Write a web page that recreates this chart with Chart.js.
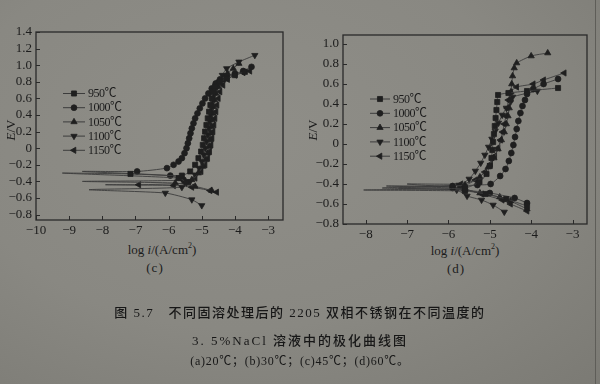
<!DOCTYPE html>
<html><head><meta charset="utf-8">
<script src="https://cdn.jsdelivr.net/npm/chart.js@4.4.0/dist/chart.umd.min.js"></script>
<style>
html,body{margin:0;padding:0;}
body{width:600px;height:384px;position:relative;overflow:hidden;
 background:radial-gradient(ellipse at 40% 35%,#8f8e88 0%,#898882 55%,#7b7a74 100%);
 font-family:"Liberation Serif","Noto Sans CJK SC",serif;color:#1c1c1c;}
canvas{position:absolute;top:0;}
.t{position:absolute;white-space:nowrap;font-size:13px;transform:translate(-50%,-50%);line-height:1;}
.rot{transform:translate(-50%,-50%) rotate(-90deg);}
.cap{position:absolute;left:0;width:600px;text-align:center;white-space:nowrap;line-height:16px;color:#171717;}
.edge{position:absolute;left:595px;top:0;width:1px;height:384px;background:#5e5d58;}
</style></head>
<body>
<canvas id="cc" width="300" height="240" style="left:0"></canvas>
<canvas id="cd" width="300" height="240" style="left:300px"></canvas>
<div class="edge"></div>
<div class="t rot" style="left:10px;top:130px"><i>E</i>/V</div>
<div class="t" style="left:162px;top:249px">log <i>i</i>/(A/cm<sup style="font-size:8px">2</sup>)</div>
<div class="t" style="left:155px;top:267px;letter-spacing:1px">(c)</div>
<div class="t rot" style="left:312px;top:130px"><i>E</i>/V</div>
<div class="t" style="left:465px;top:250px">log <i>i</i>/(A/cm<sup style="font-size:8px">2</sup>)</div>
<div class="t" style="left:456px;top:268px;letter-spacing:1px">(d)</div>
<div class="cap" style="top:305px;font-size:13px;letter-spacing:1.5px;font-weight:500">图 5.7&nbsp;&nbsp;&nbsp;不同固溶处理后的 2205 双相不锈钢在不同温度的</div>
<div class="cap" style="top:333px;font-size:13px;letter-spacing:2px;font-weight:500">3. 5%NaCl 溶液中的极化曲线图</div>
<div class="cap" style="top:353px;font-size:12px;letter-spacing:0.75px">(a)20℃；(b)30℃；(c)45℃；(d)60℃。</div>
<script>
// ---- data ----
const seriesNames = ['950℃','1000℃','1050℃','1100℃','1150℃'];

// chart (c): [log i, E]
const c950 = [[-5.45,-0.41],[-5.7,-0.36],[-9.2,-0.30],[-7.15,-0.31],[-5.6,-0.33],[-5.35,-0.28],[-5.2,-0.2],[-5.1,-0.12],[-5.02,-0.04],[-4.97,0.04],[-4.93,0.12],[-4.9,0.2],[-4.86,0.28],[-4.82,0.36],[-4.78,0.44],[-4.74,0.52],[-4.7,0.6],[-4.66,0.68],[-4.6,0.74],[-4.45,0.8],[-4.25,0.84],[-4.0,0.88],[-3.7,0.92]];
const c1000 = [[-5.55,-0.38],[-5.95,-0.33],[-8.6,-0.28],[-6.95,-0.28],[-6.05,-0.24],[-5.85,-0.2],[-5.7,-0.16],[-5.6,-0.12],[-5.52,-0.06],[-5.46,0.0],[-5.42,0.06],[-5.38,0.12],[-5.34,0.18],[-5.3,0.24],[-5.25,0.3],[-5.2,0.36],[-5.13,0.42],[-5.06,0.48],[-4.98,0.54],[-4.9,0.6],[-4.8,0.66],[-4.7,0.72],[-4.58,0.78],[-4.45,0.83],[-4.25,0.87],[-4.0,0.9],[-3.75,0.93],[-3.5,0.98]];
const c1050 = [[-4.7,-0.51],[-5.2,-0.46],[-5.8,-0.42],[-8.6,-0.40],[-5.3,-0.38],[-5.1,-0.3],[-4.97,-0.22],[-4.88,-0.14],[-4.82,-0.06],[-4.78,0.02],[-4.75,0.1],[-4.73,0.18],[-4.71,0.26],[-4.69,0.34],[-4.67,0.42],[-4.65,0.5],[-4.62,0.58],[-4.58,0.66],[-4.5,0.74],[-4.38,0.82],[-4.22,0.9],[-4.05,0.96],[-3.88,1.02]];
const c1100 = [[-5.0,-0.69],[-5.3,-0.62],[-6.1,-0.54],[-8.4,-0.50],[-5.6,-0.47],[-5.35,-0.4],[-5.2,-0.32],[-5.08,-0.24],[-5.0,-0.16],[-4.94,-0.08],[-4.89,0.0],[-4.85,0.08],[-4.81,0.16],[-4.78,0.24],[-4.75,0.32],[-4.72,0.4],[-4.69,0.48],[-4.66,0.56],[-4.62,0.64],[-4.56,0.72],[-4.48,0.8],[-4.38,0.88],[-4.25,0.96],[-3.88,1.04],[-3.4,1.12]];
const c1150 = [[-4.55,-0.53],[-4.75,-0.51],[-5.3,-0.47],[-5.85,-0.45],[-7.9,-0.44],[-6.9,-0.44],[-5.5,-0.42],[-5.2,-0.36],[-5.02,-0.28],[-4.9,-0.2],[-4.82,-0.12],[-4.76,-0.04],[-4.72,0.04],[-4.69,0.12],[-4.66,0.2],[-4.63,0.28],[-4.6,0.36],[-4.57,0.44],[-4.54,0.52],[-4.5,0.6],[-4.45,0.68],[-4.36,0.76],[-4.22,0.83],[-4.0,0.88],[-3.75,0.91],[-3.55,0.93]];
const cTicksX = [-10,-9,-8,-7,-6,-5,-4,-3];
const cTicksY = [-0.8,-0.6,-0.4,-0.2,0,0.2,0.4,0.6,0.8,1.0,1.2,1.4];

// chart (d): [log i, E]
const d950 = [[-4.1,-0.62],[-4.6,-0.55],[-5.1,-0.5],[-5.6,-0.47],[-8.05,-0.46],[-5.6,-0.44],[-5.25,-0.38],[-5.08,-0.3],[-5.0,-0.22],[-4.96,-0.14],[-4.94,-0.06],[-4.92,0.02],[-4.9,0.1],[-4.88,0.18],[-4.86,0.26],[-4.84,0.34],[-4.82,0.42],[-4.8,0.49],[-4.55,0.51],[-4.1,0.53],[-3.35,0.56]];
const d1000 = [[-4.1,-0.59],[-4.4,-0.54],[-5.0,-0.49],[-5.6,-0.46],[-5.9,-0.44],[-7.5,-0.42],[-5.9,-0.42],[-5.3,-0.41],[-4.98,-0.4],[-4.75,-0.32],[-4.62,-0.25],[-4.54,-0.17],[-4.48,-0.09],[-4.43,-0.01],[-4.39,0.07],[-4.35,0.15],[-4.31,0.23],[-4.26,0.31],[-4.21,0.38],[-4.15,0.44],[-4.1,0.5],[-3.95,0.55],[-3.7,0.6],[-3.35,0.65]];
const d1050 = [[-4.1,-0.65],[-4.5,-0.57],[-4.76,-0.53],[-5.24,-0.49],[-5.6,-0.46],[-7.2,-0.44],[-5.6,-0.41],[-5.24,-0.33],[-5.04,-0.23],[-4.9,-0.14],[-4.8,-0.05],[-4.72,0.04],[-4.65,0.12],[-4.6,0.2],[-4.56,0.28],[-4.53,0.36],[-4.51,0.44],[-4.49,0.52],[-4.47,0.6],[-4.45,0.68],[-4.41,0.76],[-4.35,0.81],[-4.0,0.88],[-3.6,0.91]];
const d1100 = [[-4.65,-0.68],[-4.92,-0.61],[-5.2,-0.56],[-5.55,-0.52],[-5.8,-0.46],[-7.6,-0.44],[-5.75,-0.41],[-5.5,-0.35],[-5.35,-0.27],[-5.22,-0.19],[-5.12,-0.11],[-5.03,-0.03],[-4.95,0.05],[-4.87,0.13],[-4.79,0.21],[-4.7,0.29],[-4.6,0.36],[-4.5,0.42],[-4.45,0.47],[-3.85,0.53]];
const d1150 = [[-4.1,-0.67],[-4.5,-0.6],[-4.7,-0.56],[-5.2,-0.5],[-5.7,-0.44],[-7.0,-0.40],[-5.7,-0.40],[-5.35,-0.36],[-5.12,-0.28],[-4.98,-0.2],[-4.88,-0.12],[-4.8,-0.04],[-4.74,0.04],[-4.69,0.12],[-4.65,0.2],[-4.61,0.28],[-4.58,0.36],[-4.55,0.44],[-4.5,0.52],[-4.35,0.57],[-3.95,0.6],[-3.7,0.64],[-3.2,0.71]];
const dTicksX = [-8,-7,-6,-5,-4,-3];
const dTicksY = [-0.8,-0.6,-0.4,-0.2,0,0.2,0.4,0.6,0.8,1.0];

// ---- styles ----
const markers = [
 {s:'rect',r:3.6,rot:0},{s:'circle',r:2.9,rot:0},{s:'triangle',r:3.6,rot:0},
 {s:'triangle',r:3.6,rot:180},{s:'triangle',r:3.6,rot:270}];
const INK = '#1f1f1f', LINE = '#3c3c3c';

function fmtX(v){ return String(v).replace('-','\u2212'); }
function fmtY(v){ return (Math.abs(v)<1e-9 ? '0' : v.toFixed(1)).replace('-','\u2212'); }

function drawMarker(ctx,m,x,y){
 ctx.beginPath();
 if(m.s==='circle'){ ctx.arc(x,y,m.r,0,Math.PI*2); }
 else if(m.s==='rect'){ const h=m.r*Math.SQRT1_2; ctx.rect(x-h,y-h,2*h,2*h); }
 else { const a=m.rot*Math.PI/180; for(let k=0;k<3;k++){ const t=a+k*2*Math.PI/3; const px=x+Math.sin(t)*m.r, py=y-Math.cos(t)*m.r; if(k) ctx.lineTo(px,py); else ctx.moveTo(px,py);} ctx.closePath(); }
 ctx.fill(); ctx.stroke();
}

const framePlugin = {
 id:'frame',
 afterDraw(chart){
  const o = chart.options.plugins.frame; const {ctx, chartArea:a} = chart;
  const sx = chart.scales.x, sy = chart.scales.y;
  ctx.save();
  ctx.strokeStyle = '#2a2a2a'; ctx.lineWidth = 1.3;
  ctx.strokeRect(a.left, a.top, a.width, a.height);
  ctx.lineWidth = 1;
  ctx.beginPath();
  sx.ticks.forEach(t=>{ const p=Math.round(sx.getPixelForValue(t.value))+0.5; ctx.moveTo(p,a.bottom); ctx.lineTo(p,a.bottom-4); });
  sy.ticks.forEach(t=>{ const p=Math.round(sy.getPixelForValue(t.value))+0.5; ctx.moveTo(a.left,p); ctx.lineTo(a.left+4,p); });
  ctx.stroke();
  // legend
  ctx.font = '12px "Liberation Serif","Noto Sans CJK SC",serif';
  ctx.textBaseline = 'middle'; ctx.textAlign = 'left';
  if (ctx.letterSpacing !== undefined) ctx.letterSpacing = '-0.5px';
  seriesNames.forEach((n,i)=>{
   const y = o.ly + i*o.dy;
   ctx.strokeStyle = LINE; ctx.lineWidth = 1;
   ctx.beginPath(); ctx.moveTo(o.lx, y); ctx.lineTo(o.lx+o.len, y); ctx.stroke();
   ctx.fillStyle = INK; ctx.strokeStyle = INK; ctx.lineWidth = 0.8;
   drawMarker(ctx, markers[i], o.lx+o.len/2, y);
   ctx.fillStyle = '#1c1c1c';
   ctx.fillText(n, o.tx, y+0.5);
  });
  ctx.restore();
 }
};

function makeChart(id, series, xr, yr, xt, yt, area, leg){
 const datasets = series.map((d,i)=>{
  let tip = 0; d.forEach((p,k)=>{ if(p[0] < d[tip][0]) tip = k; });
  return {
   label: seriesNames[i],
   data: d.map(p=>({x:p[0], y:p[1]})),
   showLine: true, tension: 0.2,
   borderColor: LINE, borderWidth: 0.9,
   pointStyle: markers[i].s, rotation: markers[i].rot,
   pointRadius: ctx => ctx.dataIndex === tip ? 0 : markers[i].r,
   pointBackgroundColor: INK, pointBorderColor: INK, pointBorderWidth: 0.8
  };
 });
 return new Chart(document.getElementById(id), {
  type: 'scatter',
  data: { datasets },
  options: {
   responsive:false, animation:false, events:[],
   layout:{ padding:{ left:0, top:area.top, right:300-area.right, bottom:0 } },
   plugins:{ legend:{display:false}, tooltip:{enabled:false}, frame: leg },
   scales:{
    x:{ type:'linear', min:xr[0], max:xr[1],
        afterBuildTicks: s=>{ s.ticks = xt.map(v=>({value:v})); },
        afterFit: s=>{ s.height = 240-area.bottom; },
        grid:{display:false, drawTicks:false}, border:{display:false},
        ticks:{ callback:v=>fmtX(v), color:'#1c1c1c', padding:3, maxRotation:0, autoSkip:false,
                font:{family:'"Liberation Serif", serif', size:13} } },
    y:{ type:'linear', min:yr[0], max:yr[1],
        afterBuildTicks: s=>{ s.ticks = yt.map(v=>({value:v})); },
        afterFit: s=>{ s.width = area.left; },
        grid:{display:false, drawTicks:false}, border:{display:false},
        ticks:{ callback:v=>fmtY(v), color:'#1c1c1c', padding:4, autoSkip:false,
                font:{family:'"Liberation Serif", serif', size:13} } }
   }
  },
  plugins:[framePlugin]
 });
}

makeChart('cc', [c950,c1000,c1050,c1100,c1150], [-10,-2.55], [-0.865,1.4], cTicksX, cTicksY,
 {left:36, right:283, top:32, bottom:220}, {lx:63, len:22, tx:88, ly:93.5, dy:14.2});
makeChart('cd', [d950,d1000,d1050,d1100,d1150], [-8.55,-2.65], [-0.8,1.09], dTicksX, dTicksY,
 {left:43, right:287, top:35, bottom:224}, {lx:70, len:20, tx:93, ly:99, dy:14.3});
</script>
</body></html>
